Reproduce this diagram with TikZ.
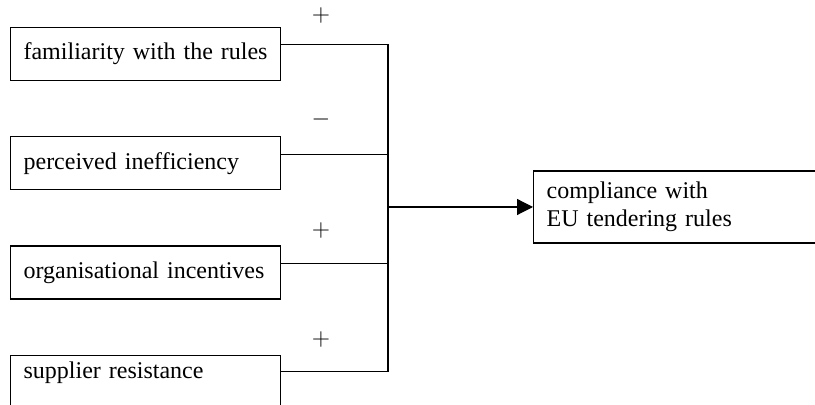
\documentclass[tikz,border=0pt]{standalone}
\usepackage{fontspec}
\setmainfont{Liberation Serif}
\usetikzlibrary{positioning, arrows.meta, calc}

\begin{document}
\begin{tikzpicture}[
		x=0.5pt, y=-0.5pt,
		>={Triangle[length=8pt, width=8pt]},
		line width=0.6pt,
		% Styles for the factor boxes
		factor/.style={
			draw, minimum width=135pt, minimum height=26.5pt,
			text width=122pt, inner xsep=6.5pt, align=left,
			font=\fontsize{12}{14}\selectfont
		},
		% Style for the sign labels
		sign/.style={font=\fontsize{12}{14}\selectfont, inner sep=1pt}
		]
		
		\useasboundingbox (0,0) rectangle (815,405);
		
		% ==========================================
		% 1. THE LEFT: the four factors
		% ==========================================
		\node[factor, anchor=north west] (familiarity) at (10,27) {familiarity with the rules};
		\node[factor, below=27.5pt of familiarity] (inefficiency) {perceived inefficiency};
		\node[factor, below=27.5pt of inefficiency] (incentives) {organisational incentives};
		\node[factor, below=27.5pt of incentives, inner ysep=3.3pt, text depth=30pt] (resistance) {supplier resistance};
		
		% ==========================================
		% 2. THE RIGHT: the outcome
		% ==========================================
		\node[factor, anchor=west, minimum width=160pt, minimum height=36pt, text width=147pt] (compliance) at (533,207) {compliance with\\EU tendering rules};
		
		% ==========================================
		% 3. THE CONNECTORS
		% ==========================================
		\coordinate (bus) at (388,207);
		\coordinate (a1) at ($(familiarity.north east)+(0,17.5)$);
		\coordinate (a2) at ($(inefficiency.north east)+(0,18)$);
		\coordinate (a3) at ($(incentives.north east)+(0,18)$);
		\coordinate (a4) at ($(resistance.north east)+(0,17)$);
		
		\draw (a1) -- (a1 -| bus) -- (a4 -| bus) -- (a4);
		\draw (a2) -- (a2 -| bus);
		\draw (a3) -- (a3 -| bus);
		\draw[->] (bus) -- (compliance.west);
		
		% Signs of the effects
		\node[sign] (s1) at (321,16) {$+$};
		\node[sign] (s2) at (321,120) {$-$};
		\node[sign] (s3) at (321,231) {$+$};
		\node[sign] (s4) at (321,340) {$+$};
		
	\end{tikzpicture}
\end{document}
